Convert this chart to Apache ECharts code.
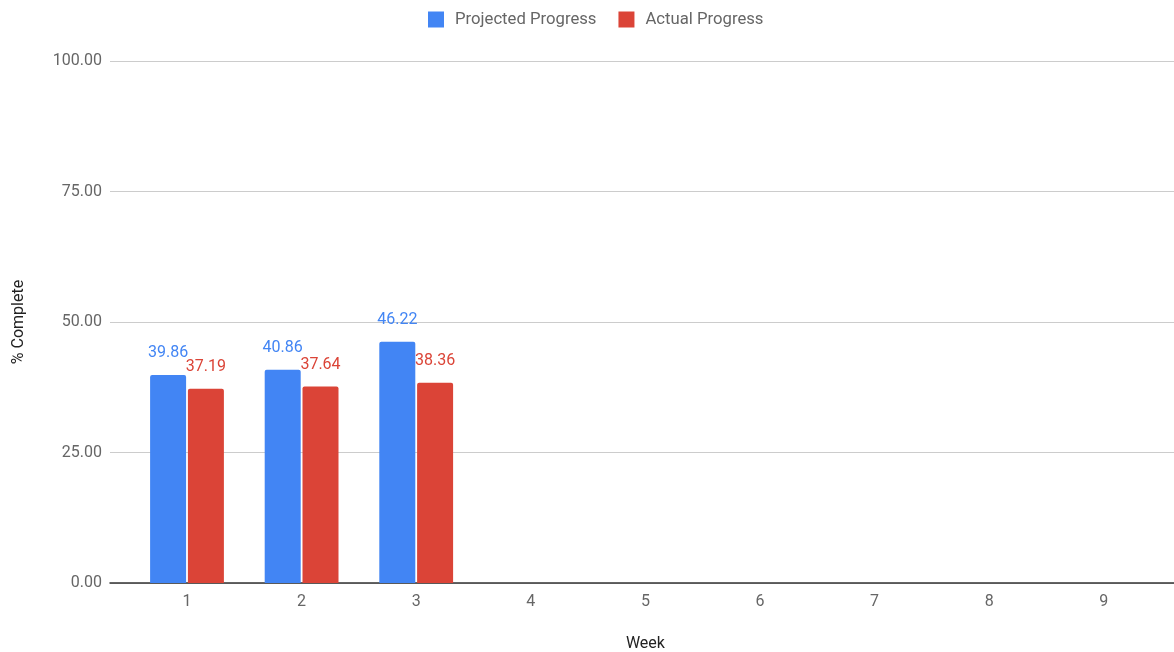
<!DOCTYPE html>
<html>
<head>
<meta charset="utf-8">
<script src="https://cdn.jsdelivr.net/npm/echarts@6/dist/echarts.min.js"></script>
<style>html,body{margin:0;padding:0;background:#fff}#c{width:1174px;height:652px}</style>
</head>
<body>
<div id="c"></div>
<script>
const weeks = ['1','2','3','4','5','6','7','8','9'];
const projected = [39.86, 40.86, 46.22, null, null, null, null, null, null];
const actual = [37.19, 37.64, 38.36, null, null, null, null, null, null];
const yTicks = { min: 0, max: 100, interval: 25 };

const chart = echarts.init(document.getElementById('c'));
const font = 'Roboto, "Noto Sans", sans-serif';
const labelCommon = {
  show: true, position: 'top', distance: 14, fontSize: 16, fontFamily: font,
  formatter: p => p.value == null ? '' : p.value.toFixed(2)
};
chart.setOption({
  animation: false,
  textStyle: { fontFamily: font },
  legend: {
    left: 428, top: 11, padding: 0, itemWidth: 16, itemHeight: 16, itemGap: 22, icon: 'rect',
    itemStyle: { borderRadius: 2 },
    textStyle: { fontSize: 16.7, color: '#666', fontFamily: font, padding: [0, 0, 0, 6] },
    data: ['Projected Progress', 'Actual Progress']
  },
  grid: [
    { left: 110, right: 0, top: 61, bottom: 69, outerBoundsMode: 'none', containLabel: false },
    { left: 129.7, width: 1031.4, top: 61, bottom: 69, outerBoundsMode: 'none', containLabel: false }
  ],
  xAxis: [
    { type: 'value', gridIndex: 0, min: 0, max: 1, axisLabel: { show: false }, axisTick: { show: false },
      splitLine: { show: false }, axisLine: { show: true, lineStyle: { color: '#333', width: 1.5 } } },
    { type: 'category', gridIndex: 1, data: weeks, axisLine: { show: false }, axisTick: { show: false },
      axisLabel: { color: '#666', fontSize: 16, margin: 11, fontFamily: font },
      name: 'Week', nameLocation: 'middle', nameGap: 53,
      nameTextStyle: { color: '#222', fontSize: 16, fontFamily: font } }
  ],
  yAxis: [
    { type: 'value', gridIndex: 0, min: yTicks.min, max: yTicks.max, interval: yTicks.interval,
      axisLine: { show: false }, axisTick: { show: false },
      axisLabel: { color: '#666', fontSize: 16, margin: 8, formatter: v => v.toFixed(2), fontFamily: font },
      splitLine: { lineStyle: { color: '#ccc', width: 1 } },
      name: '% Complete', nameLocation: 'middle', nameGap: 83,
      nameTextStyle: { color: '#222', fontSize: 16, fontFamily: font } },
    { type: 'value', gridIndex: 1, min: yTicks.min, max: yTicks.max, interval: yTicks.interval, show: false }
  ],
  series: [
    { name: 'Projected Progress', type: 'bar', xAxisIndex: 1, yAxisIndex: 1, data: projected,
      barWidth: 36, barGap: '5%', itemStyle: { color: '#4285F4', borderRadius: [2, 2, 0, 0] },
      label: Object.assign({ color: '#4285F4' }, labelCommon) },
    { name: 'Actual Progress', type: 'bar', xAxisIndex: 1, yAxisIndex: 1, data: actual,
      barWidth: 36, barGap: '5%', itemStyle: { color: '#DB4437', borderRadius: [2, 2, 0, 0] },
      label: Object.assign({ color: '#DB4437' }, labelCommon) }
  ]
});
</script>
</body>
</html>
